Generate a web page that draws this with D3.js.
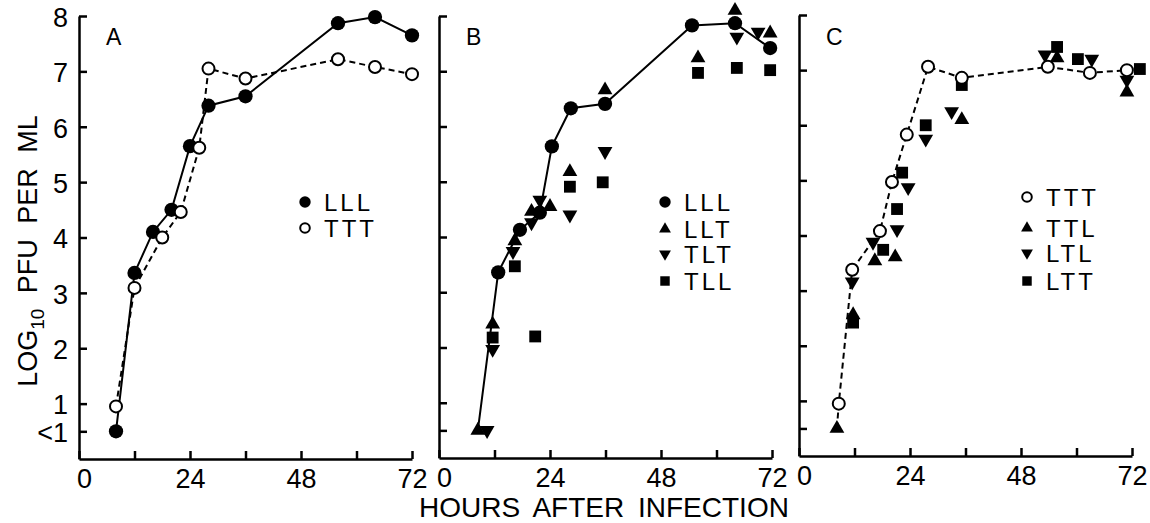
<!DOCTYPE html>
<html>
<head>
<meta charset="utf-8">
<script src="https://cdn.jsdelivr.net/npm/d3@7"></script>
<style>
  body { margin: 0; background: #fff; }
  text { font-family: "Liberation Sans", Arial, sans-serif; fill: #000; }
</style>
</head>
<body>
<script>
"use strict";
// values: [hours after infection, log10 PFU per ml]
// panel A
let aLLL = [[8,0.5],[12,3.36],[16,4.1],[20,4.5],[24,5.65],[28,6.38],[36,6.55],[56,7.87],[64,7.98],[72,7.65]];
let aTTT = [[8,0.95],[12,3.09],[18,4.0],[22,4.46],[26,5.62],[28,7.05],[36,6.87],[56,7.22],[64,7.08],[72,6.95]];
// panel B
let bLLL = [[12.8,3.36],[17.5,4.13],[21.8,4.44],[24.4,5.64],[28.5,6.33],[35.9,6.41],[54.7,7.83],[64,7.87],[71.6,7.42]];
let bLLT = [[8.4,0.5],[11.6,2.42],[16.4,3.93],[20,4.46],[24,4.55],[28.3,5.18],[35.9,6.66],[56,7.24],[64,8.1],[71.6,7.69]];
let bTLT = [[10.4,0.5],[11.6,1.97],[16,3.74],[20,4.26],[21.8,4.67],[28.3,4.4],[35.9,5.55],[64.4,7.62],[69,7.71]];
let bTLL = [[11.6,2.18],[16.4,3.47],[20.8,2.2],[28.3,4.91],[35.4,4.99],[56,6.97],[64.4,7.06],[71.6,7.02]];
// panel C
let cTTT = [[8.6,0.95],[11.5,3.38],[17.5,4.08],[20.1,4.97],[23.3,5.83],[27.9,7.06],[35.2,6.86],[53.8,7.06],[62.9,6.95],[70.9,7.0]];
let cTTL = [[8.2,0.5],[11.7,2.56],[16.4,3.54],[20.8,3.61],[35.2,6.1],[55.8,7.22],[70.9,6.6]];
let cLTL = [[11.5,3.16],[16,3.88],[21.2,4.11],[23.6,4.87],[27.4,5.75],[33,6.25],[53.2,7.28],[63.3,7.2],[70.9,6.82]];
let cLTT = [[11.7,2.42],[18.2,3.74],[21.2,4.48],[22.3,5.14],[27.4,6.0],[35.2,6.73],[55.8,7.42],[60.3,7.2],[73.7,7.02]];

let xTicks = [0,12,24,36,48,60,72];
let xLabels = [0,24,48,72];
let yTicks = [0.5,1,2,3,4,5,6,7,8];
let yLabels = {0.5: "<1", 1: "1", 2: "2", 3: "3", 4: "4", 5: "5", 6: "6", 7: "7", 8: "8"};

let svg = d3.select("body").append("svg")
    .attr("width", 1150)
    .attr("height", 523);

let panels = [
  {name: "A", x0: 79, top: 16, bottom: 459,
   series: [{d: aLLL, sym: "circle"}, {d: aTTT, sym: "open"}],
   lines: [{d: aLLL, dash: null}, {d: aTTT, dash: "6,4"}],
   legend: [["circle","LLL",202],["open","TTT",228]], legX: 305},
  {name: "B", x0: 439, top: 16, bottom: 458,
   series: [{d: bTLL, sym: "square"}, {d: bTLT, sym: "down"}, {d: bLLT, sym: "up"}, {d: bLLL, sym: "circle"}],
   lines: [{d: [bLLT[0]].concat(bLLL), dash: null}],
   legend: [["circle","LLL",202],["up","LLT",229],["down","TLT",254],["square","TLL",281]], legX: 665},
  {name: "C", x0: 799, top: 15, bottom: 456,
   series: [{d: cLTT, sym: "square"}, {d: cTTL, sym: "up"}, {d: cLTL, sym: "down"}, {d: cTTT, sym: "open"}],
   lines: [{d: [cTTL[0]].concat(cTTT), dash: "6,4"}],
   legend: [["open","TTT",197],["up","TTL",228],["down","LTL",253],["square","LTT",281]], legX: 1027}
];

function marker(g, sym, x, y, small) {
  let k = small ? 0.8 : 1;
  if (sym === "open") {
    g.append("circle").attr("cx", x).attr("cy", y).attr("r", 6 * k)
      .attr("fill", "#fff").attr("stroke", "#000").attr("stroke-width", 2);
    return;
  }
  let type = {circle: d3.symbolCircle, up: d3.symbolTriangle, down: d3.symbolTriangle, square: d3.symbolSquare}[sym];
  let size = {circle: 160, up: 95, down: 95, square: 140}[sym] * k * k;
  g.append("path")
    .attr("d", d3.symbol().type(type).size(size)())
    .attr("transform", "translate(" + x + "," + y + ")" + (sym === "down" ? " rotate(180)" : ""))
    .attr("fill", "#000");
}

panels.forEach(function(p) {
  let x = d3.scaleLinear().domain([0, 72]).range([p.x0, p.x0 + 333]);
  let y = d3.scaleLinear().domain([0, 8]).range([p.bottom, p.top]);
  let g = svg.append("g");

  let yAxis = g.append("g")
      .attr("transform", "translate(" + p.x0 + ",0)")
      .call(d3.axisLeft(y).tickValues(yTicks).tickSizeInner(-8).tickSizeOuter(0)
            .tickFormat(d => p.name === "A" ? yLabels[d] : ""));
  let xAxis = g.append("g")
      .attr("transform", "translate(0," + p.bottom + ")")
      .call(d3.axisBottom(x).tickValues(xTicks).tickSizeInner(-8).tickSizeOuter(0)
            .tickFormat(d => xLabels.indexOf(d) >= 0 ? d : ""));
  [yAxis, xAxis].forEach(function(a) {
    a.selectAll("path, line").attr("stroke", "#000").attr("stroke-width", 2.5);
    a.selectAll("text").style("font-size", "27px").style("font-family", "Liberation Sans, Arial, sans-serif");
  });
  yAxis.selectAll("text").attr("x", -11).attr("dy", "0.38em");
  xAxis.selectAll("text").attr("y", 10).attr("dy", "0.71em");
  xAxis.selectAll(".tick").filter(d => d === 0).select("text").attr("x", 5);

  let line = d3.line().x(d => x(d[0])).y(d => y(d[1]));
  p.lines.forEach(function(l) {
    g.append("path").attr("d", line(l.d))
      .attr("fill", "none").attr("stroke", "#000").attr("stroke-width", 2)
      .attr("stroke-dasharray", l.dash);
  });
  p.series.forEach(function(s) {
    s.d.forEach(function(d) { marker(g, s.sym, x(d[0]), y(d[1]), false); });
  });

  g.append("text").attr("x", p.x0 + 27).attr("y", 45)
    .style("font-size", "23px").text(p.name);

  p.legend.forEach(function(l) {
    marker(g, l[0], p.legX, l[2], true);
    g.append("text").attr("x", p.legX + 19).attr("y", l[2] + 9)
      .style("font-size", "24px").style("letter-spacing", "3px").text(l[1]);
  });
});

svg.append("text")
  .attr("x", 604).attr("y", 517)
  .attr("text-anchor", "middle")
  .style("font-size", "28px").style("word-spacing", "6px")
  .text("HOURS AFTER INFECTION");

let ylab = svg.append("text")
  .attr("transform", "translate(37,251) rotate(-90)")
  .attr("text-anchor", "middle")
  .style("font-size", "27px").style("word-spacing", "8px");
ylab.append("tspan").text("LOG");
ylab.append("tspan").attr("dy", 7).style("font-size", "19px").text("10");
ylab.append("tspan").attr("dy", -7).text(" PFU PER ML");
</script>
</body>
</html>
